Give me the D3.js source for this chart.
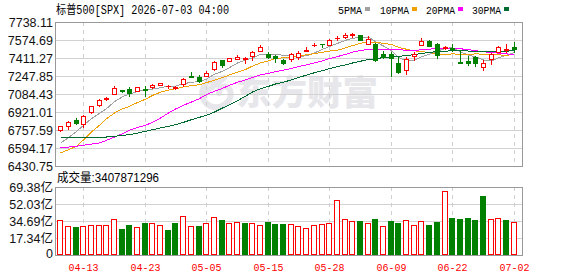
<!DOCTYPE html>
<html><head><meta charset="utf-8">
<script src="https://cdn.jsdelivr.net/npm/d3@7"></script>
<style>html,body{margin:0;padding:0;background:#fff;overflow:hidden;} svg{display:block;}</style>
</head><body>
<script>
// ---------------- data ----------------
const dates = ["04-08","04-09","04-10","04-13","04-14","04-15","04-16","04-17","04-20","04-21","04-22","04-23","04-24","04-27","04-28","04-29","04-30","05-01","05-04","05-05","05-06","05-07","05-08","05-11","05-12","05-13","05-14","05-15","05-18","05-19","05-20","05-21","05-22","05-26","05-27","05-28","05-29","06-01","06-02","06-03","06-04","06-05","06-08","06-09","06-10","06-11","06-12","06-15","06-16","06-17","06-18","06-22","06-23","06-24","06-25","06-26","06-29","06-30","07-01","07-02"];
const opens  = [6760.3,6793.9,6848.4,6812.1,6921.0,6987.3,7039.0,7087.1,7120.8,7129.8,7114.4,7127.1,7145.3,7168.9,7154.4,7136.2,7177.9,7245.1,7241.5,7250.6,7308.7,7390.4,7381.3,7399.5,7402.2,7426.7,7472.1,7450.3,7426.7,7393.1,7402.2,7420.4,7477.5,7528.0,7538.4,7532.0,7590.1,7604.6,7620.1,7622.8,7541.1,7541.1,7450.3,7450.3,7365.9,7302.3,7429.4,7532.0,7565.6,7538.4,7502.1,7504.8,7374.9,7386.8,7417.6,7326.8,7404.9,7465.7,7484.0,7513.9];
const highs  = [6796.6,6836.6,6863.8,6891.0,6975.5,7034.5,7057.2,7157.1,7120.8,7148.0,7148.0,7159.8,7172.5,7184.3,7168.9,7157.1,7227.0,7281.4,7254.2,7290.5,7381.3,7395.9,7411.3,7441.3,7420.4,7477.5,7532.0,7465.7,7435.8,7404.9,7456.7,7477.5,7508.4,7547.5,7538.4,7586.5,7611.0,7638.3,7641.0,7624.6,7611.0,7544.7,7472.1,7463.0,7417.6,7420.4,7468.4,7592.8,7574.7,7547.5,7522.9,7538.4,7483.9,7432.2,7432.2,7395.9,7456.7,7520.2,7538.4,7553.8];
const lows   = [6751.2,6769.4,6814.8,6784.8,6911.9,6975.5,7027.2,7087.1,7098.1,7063.6,7111.7,7063.6,7136.2,7166.2,7141.6,7129.8,7154.4,7241.5,7193.4,7247.8,7305.0,7332.3,7379.5,7397.7,7363.2,7393.1,7470.3,7411.3,7372.2,7356.8,7381.3,7402.2,7474.8,7517.5,7513.9,7529.3,7577.4,7590.1,7601.9,7570.2,7541.1,7386.8,7411.3,7250.6,7275.1,7266.0,7388.6,7532.0,7520.2,7411.3,7493.0,7477.5,7365.9,7350.5,7341.4,7302.3,7359.5,7465.7,7465.7,7465.7];
const closes = [6793.9,6827.5,6823.9,6887.4,6972.8,7027.2,7048.1,7136.2,7116.2,7090.8,7145.3,7120.8,7168.9,7184.3,7159.8,7148.0,7223.3,7243.3,7205.2,7275.1,7377.7,7350.5,7408.5,7420.4,7411.3,7465.7,7511.1,7423.1,7411.3,7363.2,7450.3,7456.7,7481.2,7532.0,7534.0,7574.7,7595.6,7622.8,7626.5,7572.0,7586.5,7393.1,7420.4,7408.5,7281.4,7399.5,7450.3,7568.3,7522.9,7435.8,7511.1,7493.0,7370.4,7368.6,7367.0,7362.0,7447.6,7511.1,7493.0,7495.7];
// volume in 亿
const volumes = [35.4,29.3,28.6,29.3,30.3,30.3,30.3,36.4,26.5,30.3,28.3,32.3,32.3,30.3,25.2,32.3,39.5,29.3,29.3,32.3,38.5,35.7,32.3,34.0,32.3,32.3,30.3,33.3,31.3,31.3,31.3,29.3,27.2,30.3,31.3,32.3,56.1,36.4,34.4,34.4,32.3,36.7,29.3,34.4,32.3,35.4,30.3,34.4,30.6,33.3,65.3,37.8,36.7,37.8,35.7,60.2,36.7,37.8,35.7,34.08];
const ma5  = [6637,6690,6745,6800,6861.1,6907.8,6951.9,7014.3,7060.1,7083.7,7107.3,7121.9,7128.4,7142.0,7155.8,7156.4,7176.9,7191.7,7195.9,7219.0,7264.9,7290.4,7323.4,7366.4,7393.7,7411.3,7443.4,7446.3,7444.5,7434.9,7431.8,7420.9,7432.5,7456.7,7490.8,7515.7,7543.5,7571.8,7590.7,7598.3,7600.7,7560.2,7519.7,7476.1,7418.0,7380.6,7392.0,7421.6,7444.5,7475.4,7497.7,7506.2,7466.6,7435.8,7422.3,7393.3,7384.2,7412.4,7437.2,7462.7];
const ma10 = [6550,6578,6610,6668,6740,6800,6860,6912,6950,6972.4,7007.5,7036.9,7071.4,7101.1,7119.8,7131.8,7149.4,7160.1,7169.0,7187.4,7210.6,7233.6,7257.6,7281.2,7306.3,7338.1,7366.9,7384.9,7405.5,7414.3,7421.5,7432.2,7439.4,7450.6,7462.9,7473.8,7482.2,7502.2,7523.7,7544.6,7558.2,7551.8,7545.8,7533.4,7508.2,7490.6,7476.1,7470.7,7460.3,7446.7,7439.1,7449.1,7444.1,7440.1,7448.9,7445.5,7445.2,7439.5,7436.5,7442.5];
const ma20 = [6600,6603,6610,6619,6630,6640,6664,6694,6724,6755,6782,6800,6828,6866,6912,6948,6982,7012,7042,7079.9,7109.1,7135.2,7164.5,7191.1,7213.0,7235.0,7258.1,7272.5,7287.2,7300.8,7316.1,7332.9,7348.5,7365.9,7384.6,7405.9,7424.5,7443.5,7464.6,7479.4,7489.9,7492.0,7492.6,7492.0,7485.5,7482.2,7479.2,7486.4,7492.0,7495.6,7498.7,7500.5,7494.9,7486.8,7478.5,7468.1,7460.7,7455.1,7448.4,7444.6];
const ma30 = [6685,6685,6686,6687,6688,6691,6694,6700,6709,6715,6730,6746,6760,6776,6791,6806,6827,6851,6873,6891,6921,6957,6987,7024,7064,7103,7133,7154,7175,7191.4,7213.2,7234.2,7256.1,7277.6,7296.3,7314.6,7332.8,7349.0,7366.0,7382.1,7396.8,7405.9,7414.3,7421.7,7425.8,7434.2,7441.7,7452.6,7463.2,7468.5,7473.0,7477.7,7476.4,7474.7,7473.3,7470.0,7467.8,7470.8,7473.5,7477.9];
const priceTicks = [6430.75,6594.17,6757.59,6921.01,7084.43,7247.85,7411.27,7574.69,7738.11];
const volTicks = [0,17.34,34.69,52.03,69.38];
const volTickLabels = ["0","17.34亿","34.69亿","52.03亿","69.38亿"];
const xTickDates = ["04-13","04-23","05-05","05-15","05-28","06-09","06-22","07-02"];
const titleText = "标普500[SPX] 2026-07-03 04:00";
const volTitle = "成交量:3407871296";
const maNames = ["5PMA","10PMA","20PMA","30PMA"];
const maColors = ["#a0a0a0","#f0a000","#ff00ff","#006b30"];
const maSeries = [ma5, ma10, ma20, ma30];

// ---------------- layout ----------------
const W = 578, H = 276;
const L = 55, R = 522, pTop = 22, pBot = 166, vTop = 187, vBot = 255;
const RED = "#ff0000", GREEN = "#008000";

const svg = d3.select("body").append("svg").attr("width", W).attr("height", H);

const x = d3.scaleBand().domain(dates).range([56.36, 517.52]).padding(0);
const cx = d => Math.round(x(d) + x.bandwidth() / 2);
const y = d3.scaleLinear().domain([priceTicks[0], priceTicks[priceTicks.length - 1]]).range([pBot, pTop]);
const yv = d3.scaleLinear().domain([0, 69.38]).range([vBot, vTop]);

// watermark
const wm = svg.append("g").attr("fill", "#e7e7eb");
wm.append("path")
  .attr("d", "M214,80 C200,82 198,100 210,106 C222,111 234,100 230,90 C227,84 218,86 219,93 M206,92 L224,78")
  .attr("fill", "none").attr("stroke", "#e7e7eb").attr("stroke-width", 6).attr("stroke-linecap", "round");
wm.append("text").attr("x", 236).attr("y", 105)
  .attr("font-family", "Noto Sans CJK SC").attr("font-weight", 900).attr("font-size", 34)
  .attr("textLength", 142).attr("lengthAdjust", "spacingAndGlyphs")
  .text("东方财富");

// grid lines
const grid = svg.append("g").attr("shape-rendering", "crispEdges");
priceTicks.slice(1, -1).forEach(t => {
  const yy = Math.round(y(t)) + 0.5;
  grid.append("line").attr("x1", L).attr("x2", R).attr("y1", yy).attr("y2", yy).attr("stroke", "#d2d2d2");
});
volTicks.slice(1, -1).forEach(t => {
  const yy = Math.round(yv(t)) + 0.5;
  grid.append("line").attr("x1", L).attr("x2", R).attr("y1", yy).attr("y2", yy).attr("stroke", "#d2d2d2");
});
xTickDates.forEach(d => {
  const xx = cx(d) + 0.5;
  grid.append("line").attr("x1", xx).attr("x2", xx).attr("y1", pTop).attr("y2", pBot)
    .attr("stroke", "#cfcfcf").attr("stroke-dasharray", "4,4");
  grid.append("line").attr("x1", xx).attr("x2", xx).attr("y1", vTop).attr("y2", vBot)
    .attr("stroke", "#cfcfcf").attr("stroke-dasharray", "4,4");
});

// panel borders
svg.append("rect").attr("x", L + 0.5).attr("y", pTop + 0.5).attr("width", R - L).attr("height", pBot - pTop)
  .attr("fill", "none").attr("stroke", "#999").attr("shape-rendering", "crispEdges");
svg.append("rect").attr("x", L + 0.5).attr("y", vTop + 0.5).attr("width", R - L).attr("height", vBot - vTop)
  .attr("fill", "none").attr("stroke", "#999").attr("shape-rendering", "crispEdges");

// MA lines
const maG = svg.append("g");
maSeries.forEach((s, k) => {
  const line = d3.line().x((v, i) => cx(dates[i]) + 0.5).y(v => y(v));
  maG.append("path").attr("d", line(s)).attr("fill", "none").attr("stroke", maColors[k])
    .attr("stroke-width", 1).attr("shape-rendering", "crispEdges");
});

// candles
const cG = svg.append("g").attr("shape-rendering", "crispEdges");
dates.forEach((d, i) => {
  const o = opens[i], c = closes[i], h = highs[i], l = lows[i];
  const up = c >= o;
  const col = up ? RED : GREEN;
  const xc = cx(d);
  cG.append("line").attr("x1", xc + 0.5).attr("x2", xc + 0.5)
    .attr("y1", Math.round(y(h))).attr("y2", Math.round(y(l)) + 1).attr("stroke", col);
  const top = Math.round(y(Math.max(o, c)));
  const bot = Math.round(y(Math.min(o, c)));
  if (bot - top < 1) {
    cG.append("line").attr("x1", xc - 2).attr("x2", xc + 3).attr("y1", top + 0.5).attr("y2", top + 0.5).attr("stroke", col);
  } else {
    cG.append("rect").attr("x", xc - 1.5).attr("y", top + 0.5).attr("width", 4).attr("height", bot - top)
      .attr("fill", up ? "#fff" : GREEN).attr("stroke", col);
  }
});

// volume bars
const vG = svg.append("g").attr("shape-rendering", "crispEdges");
dates.forEach((d, i) => {
  const prev = i === 0 ? opens[0] : closes[i - 1];
  const up = closes[i] >= prev;
  const xc = cx(d);
  const top = Math.round(yv(volumes[i]));
  vG.append("rect").attr("x", xc - 2.5).attr("y", top + 0.5).attr("width", 5).attr("height", vBot - top - 1)
    .attr("fill", up ? "#fff" : GREEN).attr("stroke", up ? RED : GREEN);
});

// y axis labels (price)
const axFont = "'Liberation Sans', Arial, sans-serif";
svg.append("g").selectAll("text").data(priceTicks).join("text")
  .attr("x", 53).attr("y", t => Math.round(y(t)) + 5)
  .attr("text-anchor", "end").attr("font-family", axFont).attr("font-size", 12.5).attr("fill", "#111")
  .text(t => t.toFixed(2));

// volume labels
svg.append("g").selectAll("text").data(volTicks).join("text")
  .attr("x", 53).attr("y", (t, i) => i === 0 ? 258 : Math.round(yv(t)) + 5)
  .attr("text-anchor", "end").attr("font-family", axFont + ", 'Noto Sans CJK SC'").attr("font-size", 12.5).attr("fill", "#111")
  .text((t, i) => volTickLabels[i]);

// x labels
svg.append("g").selectAll("text").data(xTickDates).join("text")
  .attr("x", d => cx(d) + 0.5).attr("y", 271)
  .attr("text-anchor", "middle").attr("font-family", "'Liberation Mono', monospace").attr("font-size", 11.5)
  .attr("textLength", 30).attr("lengthAdjust", "spacingAndGlyphs")
  .attr("fill", RED).text(d => d);

// title
svg.append("text").attr("x", 56).attr("y", 14)
  .attr("font-family", "'Liberation Mono', 'Noto Sans CJK SC', monospace").attr("font-size", 12)
  .attr("textLength", 173).attr("lengthAdjust", "spacingAndGlyphs").attr("fill", "#000")
  .text(titleText);

// legend
const legX = [338, 380, 426, 472];
const legW = [24, 29, 29, 29];
const leg = svg.append("g");
maNames.forEach((n, k) => {
  leg.append("text").attr("x", legX[k]).attr("y", 13.5)
    .attr("font-family", "'Liberation Mono', monospace").attr("font-size", 11.5)
    .attr("textLength", legW[k]).attr("lengthAdjust", "spacingAndGlyphs").attr("fill", "#000").text(n);
  leg.append("rect").attr("x", legX[k] + legW[k] + 3).attr("y", 7).attr("width", 5).attr("height", 4)
    .attr("fill", maColors[k]);
});

// volume title
svg.append("text").attr("x", 57).attr("y", 181.5)
  .attr("font-family", "'Liberation Sans', 'Noto Sans CJK SC', sans-serif").attr("font-size", 12)
  .attr("textLength", 102).attr("lengthAdjust", "spacingAndGlyphs").attr("fill", "#000")
  .text(volTitle);
</script>
</body></html>
